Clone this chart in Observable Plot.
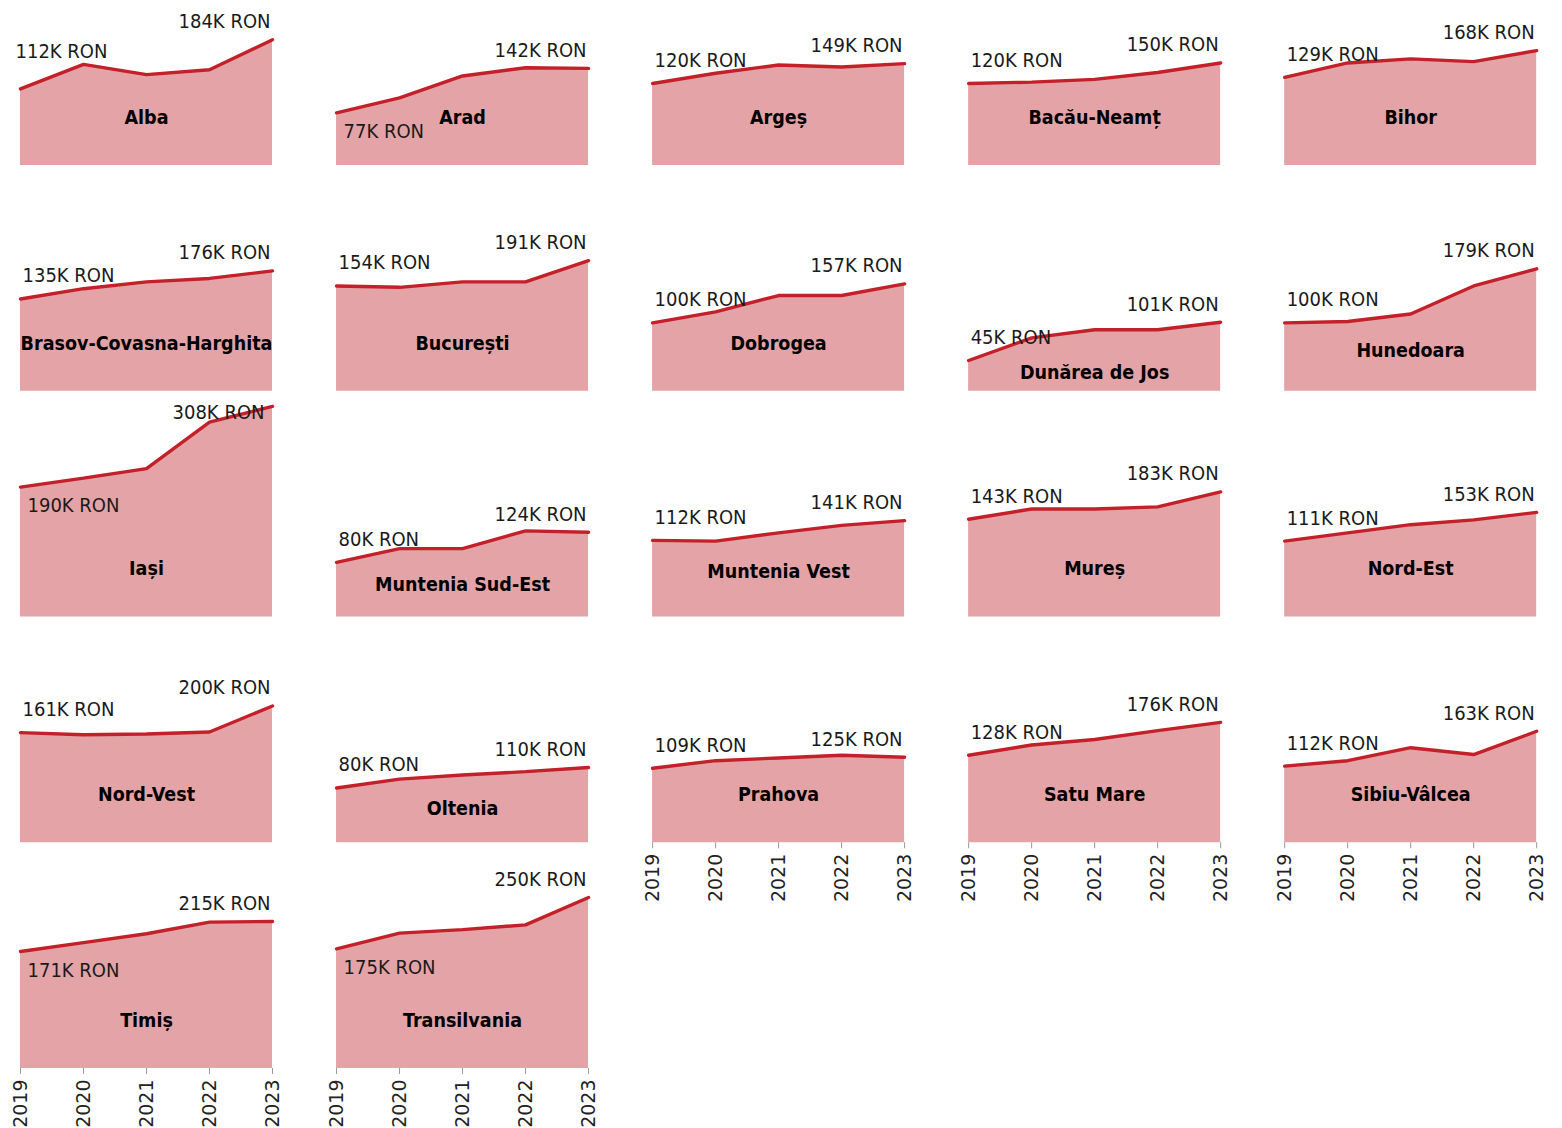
<!DOCTYPE html>
<html>
<head>
<meta charset="utf-8">
<script src="https://cdn.jsdelivr.net/npm/d3@7"></script>
<script src="https://cdn.jsdelivr.net/npm/@observablehq/plot@0.6"></script>
<style>
  html, body { margin: 0; padding: 0; background: #fff; }
  #chart svg { display: block; overflow: visible; }
  #chart g[aria-label="text"] { font-stretch: condensed; }
</style>
</head>
<body>
<div id="chart"></div>
<script>
// ---- data (values in thousand RON) ----
const years = ["2019", "2020", "2021", "2022", "2023"];
const regionNames = [
  "Alba", "Arad", "Argeș", "Bacău-Neamț", "Bihor",
  "Brasov-Covasna-Harghita", "București", "Dobrogea", "Dunărea de Jos", "Hunedoara",
  "Iași", "Muntenia Sud-Est", "Muntenia Vest", "Mureș", "Nord-Est",
  "Nord-Vest", "Oltenia", "Prahova", "Satu Mare", "Sibiu-Vâlcea",
  "Timiș", "Transilvania"
];
const alba           = [112, 148, 133, 140, 184];
const arad           = [77, 99, 131, 143, 142];
const arges          = [120, 135, 147, 144, 149];
const bacauNeamt     = [120, 122, 126, 136, 150];
const bihor          = [129, 150, 156, 152, 168];
const brasov         = [135, 150, 160, 165, 176];
const bucuresti      = [154, 152, 160, 160, 191];
const dobrogea       = [100, 116, 140, 140, 157];
const dunareaDeJos   = [45, 78, 90, 90, 101];
const hunedoara      = [100, 102, 113, 154, 179];
const iasi           = [190, 203, 217, 285, 308];
const munteniaSudEst = [80, 100, 100, 126, 124];
const munteniaVest   = [112, 111, 123, 134, 141];
const mures          = [143, 158, 158, 161, 183];
const nordEst        = [111, 123, 135, 142, 153];
const nordVest       = [161, 158, 159, 162, 200];
const oltenia        = [80, 93, 99, 104, 110];
const prahova        = [109, 120, 124, 128, 125];
const satuMare       = [128, 143, 151, 164, 176];
const sibiuValcea    = [112, 120, 139, 129, 163];
const timis          = [171, 184, 197, 214, 215];
const transilvania   = [175, 198, 203, 210, 250];

const series = [alba, arad, arges, bacauNeamt, bihor, brasov, bucuresti, dobrogea,
  dunareaDeJos, hunedoara, iasi, munteniaSudEst, munteniaVest, mures, nordEst,
  nordVest, oltenia, prahova, satuMare, sibiuValcea, timis, transilvania];

// annotation placement choices
const firstLabelBelow = new Set(["Arad", "Iași", "Timiș", "Transilvania"]);
const firstLabelRaised = new Set(["Alba"]);
const lastLabelOnLine = new Set(["Iași"]);

// ---- build tables ----
const COLS = 5;
const rows = [];
regionNames.forEach((name, i) => {
  series[i].forEach((v, j) => rows.push({
    name, year: years[j], value: v, col: i % COLS, row: Math.floor(i / COLS)
  }));
});

function spanMin(vals, half) {
  const c = (vals.length - 1) / 2;
  let m = Infinity;
  for (let t = c - half; t <= c + half + 1e-9; t += 0.02) {
    const tt = Math.max(0, Math.min(vals.length - 1, t));
    const i = Math.min(vals.length - 2, Math.floor(tt));
    const f = tt - i;
    m = Math.min(m, vals[i] * (1 - f) + vals[i + 1] * f);
  }
  return m;
}

const panels = regionNames.map((name, i) => {
  const vals = series[i];
  const half = name.length * 5.4 / 63.2;
  const nameY = Math.max(20, Math.min(70, spanMin(vals, half) - 45));
  return {
    name, col: i % COLS, row: Math.floor(i / COLS),
    first: vals[0], last: vals[vals.length - 1], nameY,
    firstText: `${vals[0]}K RON`, lastText: `${vals[vals.length - 1]}K RON`
  };
});

const labelFont = "'DejaVu Sans Condensed', 'Liberation Sans Narrow', 'DejaVu Sans', sans-serif";
const fillColor = "#e4a3a6";
const lineColor = "#c3202a";
const facetOpts = {fx: "col", fy: "row"};

const hasAxisMark = typeof Plot.axisX === "function";
const axisOpts = {tickRotate: -90, tickSize: 6, tickPadding: 5};

const chart = Plot.plot({
  width: 1562,
  height: 1128,
  marginTop: 5,
  marginBottom: 60,
  marginLeft: 20,
  marginRight: 25,
  facet: {marginTop: 0, marginRight: 0, marginBottom: 0, marginLeft: 0},
  fx: {axis: null, domain: d3.range(COLS), paddingInner: 0.2, paddingOuter: 0, round: false},
  fy: {axis: null, domain: d3.range(5), paddingInner: 0.291, paddingOuter: 0, round: false},
  x: hasAxisMark
    ? {type: "point", domain: years, padding: 0}
    : {type: "point", domain: years, padding: 0, ...axisOpts},
  y: {domain: [0, 234], axis: null},
  style: {
    fontFamily: "'DejaVu Sans', sans-serif",
    fontSize: "19px",
    color: "#222",
    background: "#fff",
    overflow: "visible"
  },
  marks: [
    Plot.areaY(rows, {x: "year", y: "value", ...facetOpts, fill: fillColor}),
    Plot.lineY(rows, {x: "year", y: "value", ...facetOpts, stroke: lineColor, strokeWidth: 3.4, strokeLinejoin: "miter"}),
    ...(hasAxisMark ? [Plot.axisX({
      anchor: "bottom", facetAnchor: "bottom-empty", ...axisOpts,
      stroke: "#9a9a9a", fill: "#222", fontSize: 19, label: null
    })] : []),
    // first-value labels
    Plot.text(panels.filter(d => !firstLabelBelow.has(d.name) && !firstLabelRaised.has(d.name)), {
      x: () => years[0], y: "first", text: "firstText", ...facetOpts,
      textAnchor: "start", lineAnchor: "middle", dx: 2, dy: -23,
      fontFamily: labelFont, fontSize: 20, fill: "#1a1a1a"
    }),
    Plot.text(panels.filter(d => firstLabelRaised.has(d.name)), {
      x: () => years[0], y: "first", text: "firstText", ...facetOpts,
      textAnchor: "start", lineAnchor: "middle", dx: -5, dy: -37,
      fontFamily: labelFont, fontSize: 20, fill: "#1a1a1a"
    }),
    Plot.text(panels.filter(d => firstLabelBelow.has(d.name)), {
      x: () => years[0], y: "first", text: "firstText", ...facetOpts,
      textAnchor: "start", lineAnchor: "middle", dx: 7, dy: 19,
      fontFamily: labelFont, fontSize: 20, fill: "#1a1a1a"
    }),
    // last-value labels
    Plot.text(panels.filter(d => !lastLabelOnLine.has(d.name)), {
      x: () => years[years.length - 1], y: "last", text: "lastText", ...facetOpts,
      textAnchor: "end", lineAnchor: "middle", dx: -2, dy: -18,
      fontFamily: labelFont, fontSize: 20, fill: "#1a1a1a"
    }),
    Plot.text(panels.filter(d => lastLabelOnLine.has(d.name)), {
      x: () => years[years.length - 1], y: "last", text: "lastText", ...facetOpts,
      textAnchor: "end", lineAnchor: "middle", dx: -8, dy: 6,
      fontFamily: labelFont, fontSize: 20, fill: "#1a1a1a"
    }),
    // region names
    Plot.text(panels, {
      x: () => years[2], y: "nameY", text: "name", ...facetOpts,
      textAnchor: "middle", lineAnchor: "middle",
      fontFamily: labelFont, fontSize: 19.5, fontWeight: "bold", fill: "#000"
    })
  ]
});

document.getElementById("chart").appendChild(chart);
</script>
</body>
</html>
